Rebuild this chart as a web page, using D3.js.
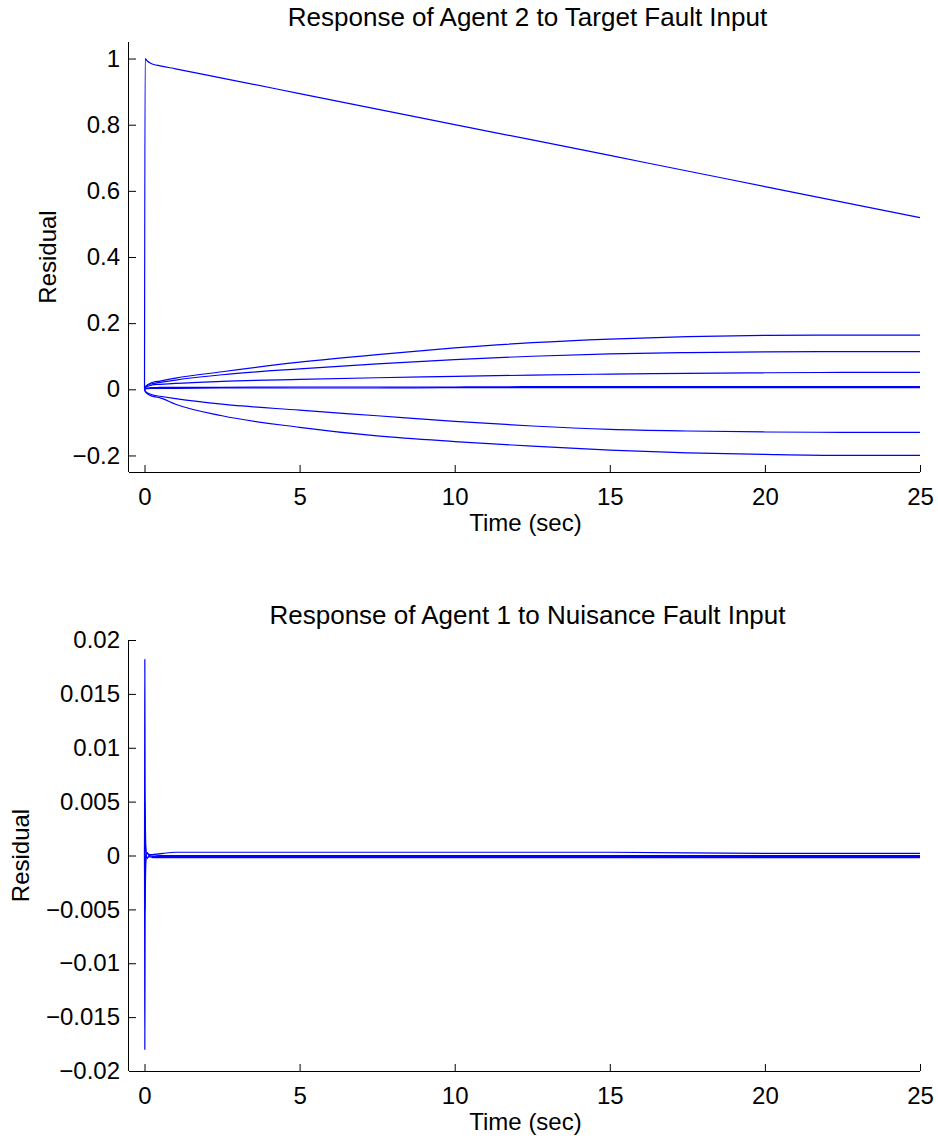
<!DOCTYPE html>
<html>
<head>
<meta charset="utf-8">
<script src="https://cdn.jsdelivr.net/npm/d3@7"></script>
<style>
html,body{margin:0;padding:0;background:#fff;}
svg text{font-family:"Liberation Sans",Arial,Helvetica,sans-serif;fill:#000;}
</style>
</head>
<body>
<svg id="chart" width="938" height="1139"></svg>
<script>
// ---------- data ----------
const xTicks = [0, 5, 10, 15, 20, 25];

// top panel: Response of Agent 2 to Target Fault Input
const topTitle = "Response of Agent 2 to Target Fault Input";
const topYTicks = [-0.2, 0, 0.2, 0.4, 0.6, 0.8, 1];
const tTop = [0, 0.02, 0.05, 0.1, 0.2, 0.3, 0.5, 1, 2.5, 5, 7.5, 10, 12.5, 15, 17.5, 20, 22.5, 25];
const topMain = [0, 1.0, 0.997, 0.992, 0.986, 0.982, 0.978, 0.969, 0.941, 0.894, 0.847, 0.800, 0.754, 0.707, 0.660, 0.613, 0.566, 0.519];
const topA = [0, 0.006, 0.010, 0.014, 0.019, 0.022, 0.025, 0.034, 0.053, 0.082, 0.105, 0.125, 0.141, 0.152, 0.159, 0.163, 0.164, 0.164];
const topB = [0, 0.005, 0.009, 0.012, 0.016, 0.018, 0.021, 0.028, 0.044, 0.062, 0.077, 0.090, 0.100, 0.107, 0.111, 0.113, 0.114, 0.114];
const topC = [0, 0.003, 0.006, 0.009, 0.012, 0.014, 0.015, 0.018, 0.024, 0.030, 0.035, 0.039, 0.043, 0.046, 0.048, 0.050, 0.051, 0.051];
const topD = [0, 0.002, 0.003, 0.004, 0.005, 0.005, 0.006, 0.006, 0.006, 0.007, 0.007, 0.007, 0.008, 0.008, 0.008, 0.008, 0.008, 0.008];
const topE = [0, 0.001, 0.002, 0.002, 0.003, 0.003, 0.003, 0.003, 0.004, 0.004, 0.004, 0.005, 0.005, 0.005, 0.005, 0.005, 0.005, 0.005];
const topG = [0, -0.005, -0.008, -0.011, -0.015, -0.018, -0.021, -0.028, -0.045, -0.063, -0.080, -0.097, -0.111, -0.121, -0.126, -0.129, -0.130, -0.130];
const topH = [0, -0.006, -0.010, -0.014, -0.019, -0.022, -0.026, -0.045, -0.080, -0.115, -0.141, -0.158, -0.172, -0.184, -0.192, -0.197, -0.200, -0.200];

// bottom panel: Response of Agent 1 to Nuisance Fault Input
const botTitle = "Response of Agent 1 to Nuisance Fault Input";
const botYTicks = [-0.02, -0.015, -0.01, -0.005, 0, 0.005, 0.01, 0.015, 0.02];
const tBot = [0, 0.005, 0.01, 0.02, 0.04, 0.08, 0.15, 0.3, 0.6, 1, 2, 5, 10, 15, 20, 25];
const botP1 = [0, 0.009, 0.0182, 0.006, 0.001, -0.0003, 0, 0.0001, 0.0002, 0.0003, 0.0003, 0.0003, 0.0003, 0.0003, 0.0002, 0.0002];
const botP2 = [0, -0.009, -0.018, -0.006, -0.001, 0.0003, 0, -0.0001, -0.0001, -0.0001, -0.0001, -0.0001, -0.0001, -0.0001, -0.0001, -0.0001];
const botP3 = [0, 0.003, 0.005, 0.002, 0.0005, -0.0002, -0.0001, -0.0002, -0.0002, -0.0002, -0.0002, -0.0002, -0.0002, -0.0002, -0.0002, -0.0002];
const botP4 = [0, -0.003, -0.005, -0.002, 0, 0.0002, 0.0001, 0.00005, 0, 0, 0, 0, 0, 0, 0, 0];

const xLabel = "Time (sec)";
const yLabel = "Residual";

// ---------- drawing ----------
const svg = d3.select("#chart");
const FS = 24;
const FT = 26;
const fmt = v => {
  if (v === 0) return "0";
  const s = String(Math.abs(+v.toFixed(4)));
  return (v < 0 ? "\u2212" : "") + s;
};

function panel(cfg) {
  const x = d3.scaleLinear().domain([-0.5, 25]).range([cfg.left, cfg.right]);
  const y = d3.scaleLinear().domain(cfg.yDomain).range([cfg.bottom, cfg.top]);
  const g = svg.append("g");
  const cx = (cfg.left + cfg.right) / 2;

  const line = d3.line().x(d => x(d[0])).y(d => y(d[1])).curve(d3.curveMonotoneX);
  cfg.series.forEach(s => {
    g.append("path")
      .datum(cfg.t.map((t, i) => [t, s[i]]))
      .attr("d", line)
      .attr("fill", "none")
      .attr("stroke", "#0000ff")
      .attr("stroke-width", 1.2);
  });

  const xAxis = d3.axisBottom(x).tickValues(xTicks).tickSize(-7).tickPadding(16).tickFormat(d => d);
  const gx = g.append("g").attr("transform", `translate(0,${cfg.bottom})`).call(xAxis);
  gx.select(".domain").attr("d", `M${cfg.left},0.5H${cfg.right}`);
  const yAxis = d3.axisLeft(y).tickValues(cfg.yTicks).tickSize(-7).tickPadding(9).tickFormat(fmt);
  const gy = g.append("g").attr("transform", `translate(${cfg.left},0)`).call(yAxis);
  gy.select(".domain").attr("d", `M-0.5,${cfg.top}V${cfg.bottom}`);
  [gx, gy].forEach(a => {
    a.selectAll("text").attr("font-size", FS).attr("font-family", "Liberation Sans, Arial, sans-serif").attr("fill", "#000");
    a.selectAll("line").attr("stroke", "#000");
    a.select(".domain").attr("stroke", "#000");
  });

  g.append("text").attr("x", cx + 3).attr("y", cfg.top - 16)
    .attr("text-anchor", "middle").attr("font-size", FT).text(cfg.title);
  g.append("text").attr("x", cx + 1).attr("y", cfg.bottom + 59)
    .attr("text-anchor", "middle").attr("font-size", FS).text(xLabel);
  g.append("text")
    .attr("transform", `translate(${cfg.yLabelX},${(cfg.top + cfg.bottom) / 2}) rotate(-90)`)
    .attr("text-anchor", "middle").attr("font-size", FS).text(yLabel);
}

panel({
  title: topTitle, t: tTop,
  series: [topMain, topA, topB, topC, topD, topE, topG, topH],
  yDomain: [-0.25, 1.05], yTicks: topYTicks,
  left: 129, right: 920, top: 42, bottom: 472, yLabelX: 56
});

panel({
  title: botTitle, t: tBot,
  series: [botP1, botP2, botP3, botP4],
  yDomain: [-0.02, 0.02], yTicks: botYTicks,
  left: 129, right: 920, top: 640, bottom: 1071, yLabelX: 29
});
</script>
</body>
</html>
